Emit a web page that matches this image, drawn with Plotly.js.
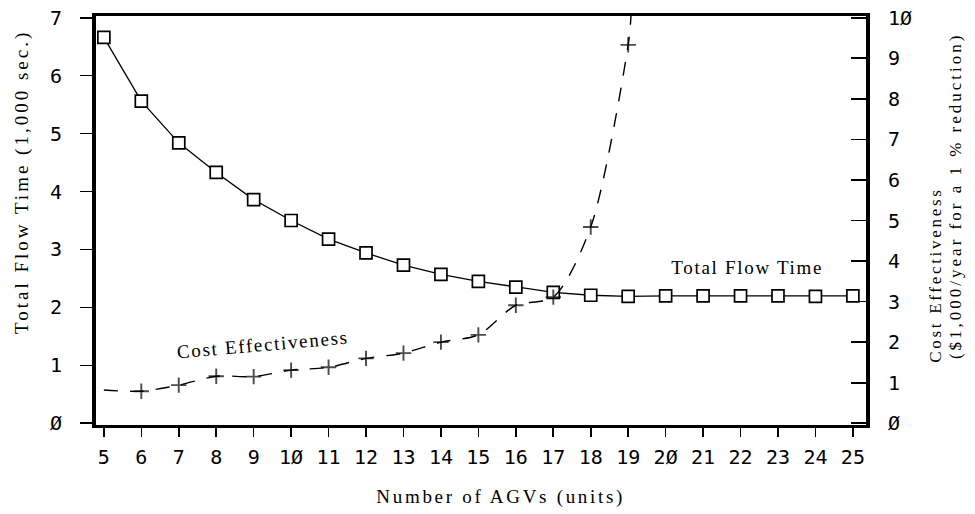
<!DOCTYPE html>
<html><head><meta charset="utf-8">
<script src="https://cdn.plot.ly/plotly-3.0.1.min.js"></script>
<style>html,body{margin:0;padding:0;background:#fff}</style>
</head><body>
<div id="chart" style="width:975px;height:514px"></div>
<script>
const agvs = [5,6,7,8,9,10,11,12,13,14,15,16,17,18,19,20,21,22,23,24,25];
const flowTime = [6.66,5.56,4.84,4.33,3.86,3.50,3.18,2.94,2.73,2.57,2.45,2.35,2.26,2.21,2.19,2.20,2.20,2.20,2.20,2.19,2.20];
const costX = [5,6,7,8,9,10,11,12,13,14,15,16,17,18,19,19.08];
const costEff = [0.82,0.79,0.94,1.16,1.15,1.31,1.38,1.60,1.73,2.00,2.18,2.91,3.11,4.84,9.33,10.1];
const costMarkerSize = [0,11,11,11,11,11,11,11,11,11,11,11,11,11,11,0];
const leftTicks = [0,1,2,3,4,5,6,7];
const leftTickText = ['Ø','1','2','3','4','5','6','7'];
const rightTicks = [0,1,2,3,4,5,6,7,8,9,10];
const rightTickText = ['Ø','1','2','3','4','5','6','7','8','9','1Ø'];
const xTickText = agvs.map(v => String(v).replace(/0/g,'Ø'));

const tickFont = {family:'DejaVu Sans Mono', size:20, color:'#000'};
const serif = 'Liberation Serif';
const labelSpacing = [1.7, 1.7, 2.7, 3.0, 2.7, 3.0];

const traces = [
  {x: agvs, y: flowTime, mode:'lines+markers', type:'scatter', yaxis:'y',
   line:{color:'#000', width:1.3},
   marker:{symbol:'square', size:12, color:'#fff', line:{color:'#000', width:1.7}},
   showlegend:false, hoverinfo:'skip'},
  {x: costX, y: costEff, mode:'lines+markers', type:'scatter', yaxis:'y2',
   line:{color:'#000', width:1.4, dash:'14px,12px', shape:'spline', smoothing:0.8},
   marker:{symbol:'cross-thin', size:costMarkerSize, color:'#000', line:{color:'#000', width:1.9}},
   showlegend:false, hoverinfo:'skip'}
];

const ann = (x, y, text, size, angle) => ({xref:'paper', yref:'paper', x, y, text, showarrow:false,
  textangle:angle, xanchor:'center', yanchor:'middle', font:{family:serif, size, color:'#000'}});

const layout = {
  width:975, height:514,
  margin:{l:96, r:109, t:16, b:89},
  paper_bgcolor:'#fff', plot_bgcolor:'#fff',
  xaxis:{range:[4.79,25.35], tickvals:agvs, ticktext:xTickText, ticks:'outside', ticklen:9, tickwidth:1.6,
         tickcolor:'#000', showgrid:false, zeroline:false, showline:true, linewidth:3, linecolor:'#000',
         mirror:true, tickfont:tickFont, ticklabelstandoff:3},
  yaxis:{range:[-0.03,7.03], tickvals:leftTicks, ticktext:leftTickText, ticks:'outside', ticklen:12, tickwidth:1.6,
         tickcolor:'#000', showgrid:false, zeroline:false, showline:true, linewidth:4, linecolor:'#000',
         tickfont:tickFont, ticklabelstandoff:14},
  yaxis2:{range:[-0.043,10.043], overlaying:'y', side:'right', tickvals:rightTicks, ticktext:rightTickText,
         ticks:'inside', ticklen:15, tickwidth:1.6, tickcolor:'#000', showgrid:false, zeroline:false,
         showline:true, linewidth:4, linecolor:'#000', tickfont:tickFont, ticklabelstandoff:14},
  annotations:[
    ann(0.2169, 0.1956, 'Cost Effectiveness', 19, -5),
    ann(0.8455, 0.3863, 'Total Flow Time', 19, 0),
    ann(0.5247, -0.176, 'Number of AGVs (units)', 19, 0),
    ann(-0.0961, 0.594, 'Total Flow Time (1,000 sec.)', 19, -90),
    ann(1.0896, 0.368, 'Cost Effectiveness', 17, -90),
    ann(1.1169, 0.561, '($1,000/year for a 1 % reduction)', 17, -90)
  ]
};

Plotly.newPlot('chart', traces, layout, {displayModeBar:false, staticPlot:true}).then(gd => {
  gd.querySelectorAll('g.annotation').forEach(g => {
    const i = +g.getAttribute('data-index');
    const t = g.querySelector('text');
    if (t && labelSpacing[i] !== undefined) t.style.letterSpacing = labelSpacing[i] + 'px';
  });
});
</script>
</body></html>
